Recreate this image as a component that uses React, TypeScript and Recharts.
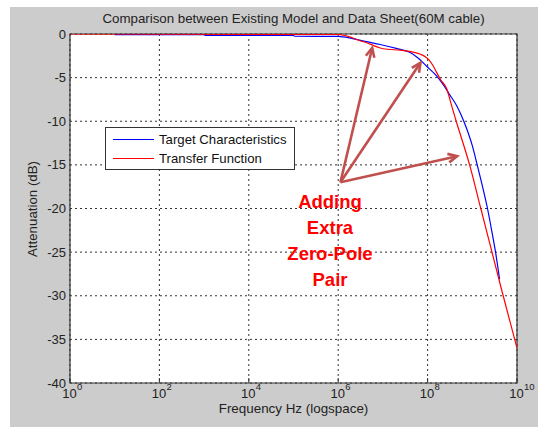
import React from 'react';
import { LineChart, Line, XAxis, YAxis, CartesianGrid, ReferenceLine, ReferenceArea, Legend } from 'recharts';

// Target characteristics (data sheet): log10(frequency in Hz) and attenuation in dB
const targetLogFreq = [1, 3, 3.02, 5, 5.02, 6, 6.3, 6.6, 6.94, 7.3, 7.6, 7.8, 7.98, 8.2, 8.35, 8.5, 8.66, 8.81, 9.0, 9.11, 9.22, 9.34, 9.44, 9.52, 9.61];
const targetDb = [-0.08, -0.08, -0.15, -0.15, -0.25, -0.28, -0.5, -0.85, -1.2, -1.65, -2.1, -2.8, -3.7, -4.8, -5.8, -7.0, -8.3, -10.0, -12.8, -15.0, -17.3, -20.0, -22.7, -25.0, -28.1];

// Transfer function of the model
const transferLogFreq = [0, 6.0, 6.3, 6.5, 6.64, 6.8, 6.94, 7.1, 7.39, 7.6, 7.83, 7.95, 8.02, 8.13, 8.2, 8.3, 8.43, 8.52, 8.64, 8.75, 8.94, 9.18, 9.44, 9.66, 10];
const transferDb = [0, -0.05, -0.4, -0.8, -1.0, -1.35, -1.6, -1.75, -1.85, -2.0, -2.3, -2.6, -2.9, -3.7, -4.4, -5.3, -6.3, -7.9, -10.0, -11.8, -15.0, -19.8, -25.0, -29.4, -36.0];

// Axis ticks
const xTickExponents = [0, 2, 4, 6, 8, 10];
const yTicks = [-40, -35, -30, -25, -20, -15, -10, -5, 0];

// Annotation arrows: common tail and three tips, as [log10 Hz, dB]
const arrowTail = [6.05, -17.0];
const arrowTips = [
  [6.76, -1.6],
  [7.84, -3.3],
  [8.66, -14.0],
];
const annotationLines = ['Adding', 'Extra', 'Zero-Pole', 'Pair'];

const seriesNames = ['Target Characteristics', 'Transfer Function'];
const seriesColors = ['#0000ff', '#ff0000'];

const targetData = targetLogFreq.map((e, i) => ({ f: Math.pow(10, e), db: targetDb[i] }));
const transferData = transferLogFreq.map((e, i) => ({ f: Math.pow(10, e), db: transferDb[i] }));
const xTicks = xTickExponents.map((e) => Math.pow(10, e));

const FONT = '"Liberation Sans", Arial, sans-serif';
const TEXT = '#222';

const PowerTick = (props: any) => {
  const { x, y, payload } = props;
  const exp = Math.round(Math.log10(payload.value));
  return (
    <g>
      <line x1={x} y1={y} x2={x} y2={y - 5} stroke="#333" strokeWidth={1} />
      <text x={x - 0.5} y={y + 14.5} textAnchor="middle" fontSize={13} fill={TEXT} fontFamily={FONT}>
        10
      </text>
      <text x={x + 7} y={y + 7} textAnchor="start" fontSize={9.5} fill={TEXT} fontFamily={FONT}>
        {exp}
      </text>
    </g>
  );
};

const ArrowShape = (props: any) => {
  const { x1, y1, x2, y2 } = props;
  if ([x1, y1, x2, y2].some((v) => v == null || isNaN(v))) return null;
  const ang = Math.atan2(y2 - y1, x2 - x1);
  const len = 10;
  const spread = 0.45;
  const ax = x2 - len * Math.cos(ang - spread);
  const ay = y2 - len * Math.sin(ang - spread);
  const bx = x2 - len * Math.cos(ang + spread);
  const by = y2 - len * Math.sin(ang + spread);
  const color = '#c0504d';
  return (
    <g>
      <line x1={x1} y1={y1} x2={x2} y2={y2} stroke={color} strokeWidth={2.6} />
      <polyline points={`${ax},${ay} ${x2},${y2} ${bx},${by}`} fill="none" stroke={color} strokeWidth={2.6} strokeLinejoin="miter" />
    </g>
  );
};

const LegendBox = () => (
  <div
    style={{
      width: 188,
      height: 41,
      background: '#fff',
      border: '1px solid #333',
      fontFamily: FONT,
      fontSize: 13.2,
      color: '#111',
      position: 'relative',
    }}
  >
    {seriesNames.map((name, i) => (
      <div key={name} style={{ position: 'absolute', left: 7, top: 4 + i * 19, height: 15, display: 'flex', alignItems: 'center' }}>
        <div style={{ width: 41, height: 1.3, background: seriesColors[i] }} />
        <span style={{ marginLeft: 5, whiteSpace: 'nowrap' }}>{name}</span>
      </div>
    ))}
  </div>
);

export default function App() {
  return (
    <div style={{ position: 'absolute', left: 0, top: 0, width: 538, height: 427, background: '#fff', overflow: 'hidden' }}>
      <div style={{ position: 'absolute', left: 10, top: 7, width: 528, height: 420, background: '#cccccc' }} />
      <div
        style={{
          position: 'absolute',
          left: 70,
          width: 447,
          top: 11,
          textAlign: 'center',
          fontFamily: FONT,
          fontSize: 13.3,
          color: TEXT,
          whiteSpace: 'nowrap',
        }}
      >
        Comparison between Existing Model and Data Sheet(60M cable)
      </div>
      <div
        style={{
          position: 'absolute',
          left: 70,
          width: 447,
          top: 401,
          textAlign: 'center',
          fontFamily: FONT,
          fontSize: 13.4,
          color: TEXT,
          whiteSpace: 'nowrap',
        }}
      >
        Frequency Hz (logspace)
      </div>
      <div
        style={{
          position: 'absolute',
          left: 31.5,
          top: 209,
          transform: 'translate(-50%, -50%) rotate(-90deg)',
          fontFamily: FONT,
          fontSize: 13.3,
          color: TEXT,
          whiteSpace: 'nowrap',
        }}
      >
        Attenuation (dB)
      </div>
      <div style={{ position: 'absolute', left: 0, top: 0 }}>
        <LineChart width={538} height={427} margin={{ top: 34, right: 21, bottom: 14, left: 10 }}>
          <CartesianGrid
            stroke="#333"
            strokeDasharray="2 3"
            fill="#ffffff"
            horizontalValues={yTicks}
            verticalValues={xTicks}
          />
          <XAxis
            dataKey="f"
            type="number"
            scale="log"
            domain={[1, 1e10]}
            ticks={xTicks}
            interval={0}
            allowDataOverflow
            axisLine={false}
            tickLine={false}
            tickSize={0}
            tickMargin={0}
            height={30}
            tick={<PowerTick />}
          />
          <YAxis
            dataKey="db"
            type="number"
            domain={[-40, 0]}
            ticks={yTicks}
            interval={0}
            allowDataOverflow
            axisLine={false}
            tickLine={false}
            tickSize={0}
            tickMargin={4}
            width={60}
            tick={{ fontSize: 13, fill: TEXT, fontFamily: FONT }}
          />
          <ReferenceArea x1={1} x2={1e10} y1={-40} y2={0} fill="none" stroke="#333" strokeWidth={1.2} ifOverflow="visible" />
          <Line
            data={targetData}
            dataKey="db"
            name={seriesNames[0]}
            type="monotone"
            stroke={seriesColors[0]}
            strokeWidth={1.2}
            dot={false}
            isAnimationActive={false}
          />
          <Line
            data={transferData}
            dataKey="db"
            name={seriesNames[1]}
            type="monotone"
            stroke={seriesColors[1]}
            strokeWidth={1.2}
            dot={false}
            isAnimationActive={false}
          />
          {arrowTips.map((tip, i) => (
            <ReferenceLine
              key={i}
              segment={[
                { x: Math.pow(10, arrowTail[0]), y: arrowTail[1] },
                { x: Math.pow(10, tip[0]), y: tip[1] },
              ]}
              ifOverflow="visible"
              shape={ArrowShape}
            />
          ))}
          <Legend
            layout="horizontal"
            verticalAlign="middle"
            align="center"
            wrapperStyle={{ left: 105, top: 127, width: 190 }}
            content={() => <LegendBox />}
          />
        </LineChart>
      </div>
      <div
        style={{
          position: 'absolute',
          left: 270,
          width: 120,
          top: 189,
          textAlign: 'center',
          fontFamily: FONT,
          fontWeight: 'bold',
          fontSize: 18.5,
          lineHeight: '26px',
          color: '#ff0000',
        }}
      >
        {annotationLines.map((t) => (
          <div key={t}>{t}</div>
        ))}
      </div>
    </div>
  );
}
